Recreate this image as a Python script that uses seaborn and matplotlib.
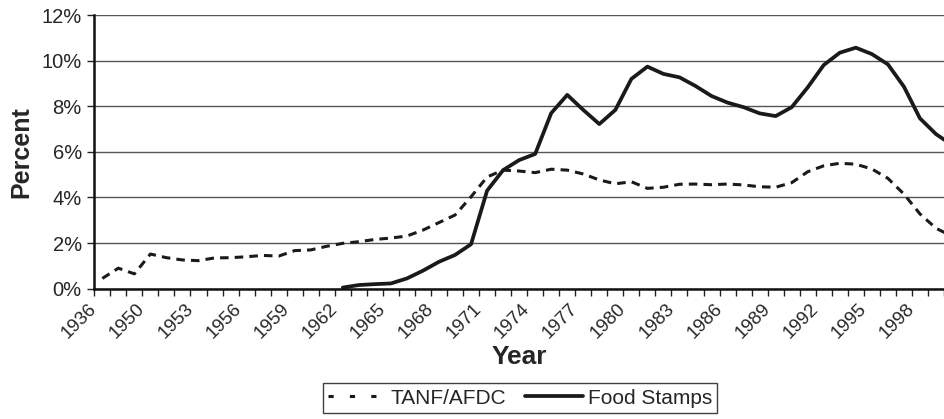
import numpy as np
import pandas as pd
import matplotlib.pyplot as plt
import matplotlib.ticker as mticker
import seaborn as sns

# categories on the x axis (one slot per year, 1936 then 1948-2000)
years = [1936, 1948, 1949, 1950, 1951, 1952, 1953, 1954, 1955, 1956, 1957,
         1958, 1959, 1960, 1961, 1962, 1963, 1964, 1965, 1966, 1967, 1968,
         1969, 1970, 1971, 1972, 1973, 1974, 1975, 1976, 1977, 1978, 1979,
         1980, 1981, 1982, 1983, 1984, 1985, 1986, 1987, 1988, 1989, 1990,
         1991, 1992, 1993, 1994, 1995, 1996, 1997, 1998, 1999, 2000]

# TANF/AFDC share (%), one value per year above
tanf = [0.45, 0.90, 0.65, 1.52, 1.36, 1.26, 1.23, 1.35, 1.36, 1.40, 1.46,
        1.43, 1.67, 1.70, 1.86, 1.99, 2.06, 2.16, 2.22, 2.31, 2.57, 2.90,
        3.23, 4.03, 4.90, 5.20, 5.16, 5.09, 5.24, 5.20, 5.03, 4.77, 4.60,
        4.69, 4.40, 4.45, 4.58, 4.59, 4.56, 4.59, 4.55, 4.47, 4.45, 4.65,
        5.13, 5.39, 5.50, 5.46, 5.25, 4.84, 4.15, 3.28, 2.65, 2.30]

# Food Stamps share (%), starts in 1962
food_years = [1962, 1963, 1964, 1965, 1966, 1967, 1968, 1969, 1970, 1971,
              1972, 1973, 1974, 1975, 1976, 1977, 1978, 1979, 1980, 1981,
              1982, 1983, 1984, 1985, 1986, 1987, 1988, 1989, 1990, 1991,
              1992, 1993, 1994, 1995, 1996, 1997, 1998, 1999, 2000]
food = [0.05, 0.16, 0.20, 0.23, 0.45, 0.79, 1.18, 1.48, 1.95, 4.30,
        5.20, 5.64, 5.91, 7.70, 8.50, 7.84, 7.22, 7.84, 9.20, 9.74,
        9.42, 9.27, 8.89, 8.45, 8.16, 7.96, 7.69, 7.57, 7.96, 8.83,
        9.81, 10.35, 10.57, 10.29, 9.84, 8.86, 7.47, 6.78, 6.30]

y_ticks = [0, 2, 4, 6, 8, 10, 12]

pos = {y: i for i, y in enumerate(years)}
dft = pd.DataFrame({'pos': [pos[y] for y in years], 'pct': tanf})
dff = pd.DataFrame({'pos': [pos[y] for y in food_years], 'pct': food})

sns.set_style('white')
plt.rcParams['font.family'] = ['Liberation Sans', 'DejaVu Sans']

fig = plt.figure(figsize=(9.44, 4.19), dpi=100)
ax = fig.add_axes([0.0999, 0.311, 0.9001, 0.653])

sns.lineplot(data=dft, x='pos', y='pct', ax=ax, color='#1a1a1a', lw=2.2,
             linestyle=(0, (2.8, 2.0)), label='TANF/AFDC', legend=False)
sns.lineplot(data=dff, x='pos', y='pct', ax=ax, color='#1a1a1a', lw=2.7,
             label='Food Stamps', legend=False)

ax.set_xlim(-0.5, 52.37)
ax.set_ylim(0, 12)

# y axis
ax.set_yticks(y_ticks)
ax.yaxis.set_major_formatter(mticker.FuncFormatter(lambda v, _: f'{v:.0f}%'))
ax.grid(axis='y', color='#555555', lw=1.0)
ax.grid(axis='x', visible=False)
ax.tick_params(axis='y', which='major', direction='out', length=5, width=1.0,
               color='#222222', labelsize=14.5, pad=4, left=True)

# x axis: tick marks on category boundaries, label every third year
bounds = [i - 0.5 for i in range(len(years))]
labels = [str(y) if i % 3 == 0 else '' for i, y in enumerate(years)]
ax.set_xticks(bounds)
ax.set_xticklabels(labels, rotation=45, ha='right', va='center',
                   rotation_mode='anchor')
ax.tick_params(axis='x', which='major', direction='out', length=5, width=1.0,
               color='#222222', labelsize=13.5, pad=8, bottom=True)

for s in ['top', 'right']:
    ax.spines[s].set_visible(False)
for s in ['left', 'bottom']:
    ax.spines[s].set_color('#111111')
    ax.spines[s].set_linewidth(1.8)

ax.set_xlabel('Year', fontsize=19, fontweight='bold', labelpad=2)
ax.set_ylabel('Percent', fontsize=18, fontweight='bold', labelpad=6)

leg = fig.legend(loc='center', bbox_to_anchor=(520 / 944, 1 - 398 / 419),
                 ncol=2, frameon=True, fancybox=False, edgecolor='#111111',
                 fontsize=15, handlelength=2.8, handletextpad=0.2,
                 columnspacing=0.9, borderpad=0.25)
leg.get_frame().set_linewidth(1.0)
# the legend sample for the dashed series shows three short dashes
leg.get_lines()[0].set_linestyle((0, (1.7, 5.3)))

fig.savefig('out.png', dpi=100)
plt.close()
